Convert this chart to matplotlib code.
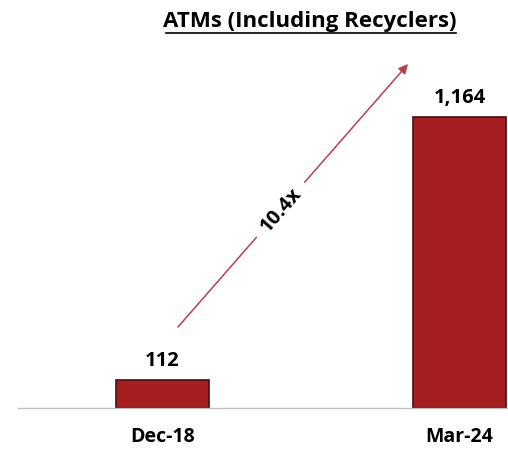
import matplotlib.pyplot as plt

categorias = ["Dec-18", "Mar-24"]
atms = [112, 1164]
etiquetas = ["112", "1,164"]
crecimiento = "10.4x"

plt.rcParams['font.family'] = ['Open Sans', 'DejaVu Sans']

fig = plt.figure(figsize=(5.08, 4.51), dpi=100)
ax = fig.add_axes([18/508, 43/451, 490/508, 368/451])

x = range(len(categorias))
ax.bar(x, atms, width=0.313, color="#A51E22", edgecolor="#4A0E10", linewidth=1.2)

for xi, v, lab in zip(x, atms, etiquetas):
    ax.text(xi, v + 56, lab, ha="center", va="baseline", fontsize=14.5, fontweight="bold")

ax.set_xlim(-0.4865, 1.163)
ax.set_ylim(0, 1472)
ax.set_xticks(list(x))
ax.set_xticklabels(categorias, fontsize=14, fontweight="bold")
ax.tick_params(axis="x", length=0, pad=14)
ax.set_yticks([])
for s in ["top", "left", "right"]:
    ax.spines[s].set_visible(False)
ax.spines["bottom"].set_color("#BFBFBF")
ax.spines["bottom"].set_linewidth(1)

# flecha de crecimiento
ax.annotate("", xy=(0.8266, 1376), xytext=(0.052, 324),
            arrowprops=dict(arrowstyle="-|>", color="#B8404A", lw=1.1,
                            mutation_scale=14, shrinkA=0, shrinkB=0))
ax.text(0.40, 790, crecimiento, rotation=48.8, ha="center", va="center",
        fontsize=14.5, fontweight="bold",
        bbox=dict(boxstyle="square,pad=0.5", fc="white", ec="none"))

fig.text(0.61, 1 - 21/451, "ATMs (Including Recyclers)", ha="center", va="center",
         fontsize=16, fontweight="bold")
fig.add_artist(plt.Line2D([166/508, 456/508], [1 - 33/451, 1 - 33/451],
                          color="black", lw=1.2))

fig.savefig("out.png", dpi=100)
